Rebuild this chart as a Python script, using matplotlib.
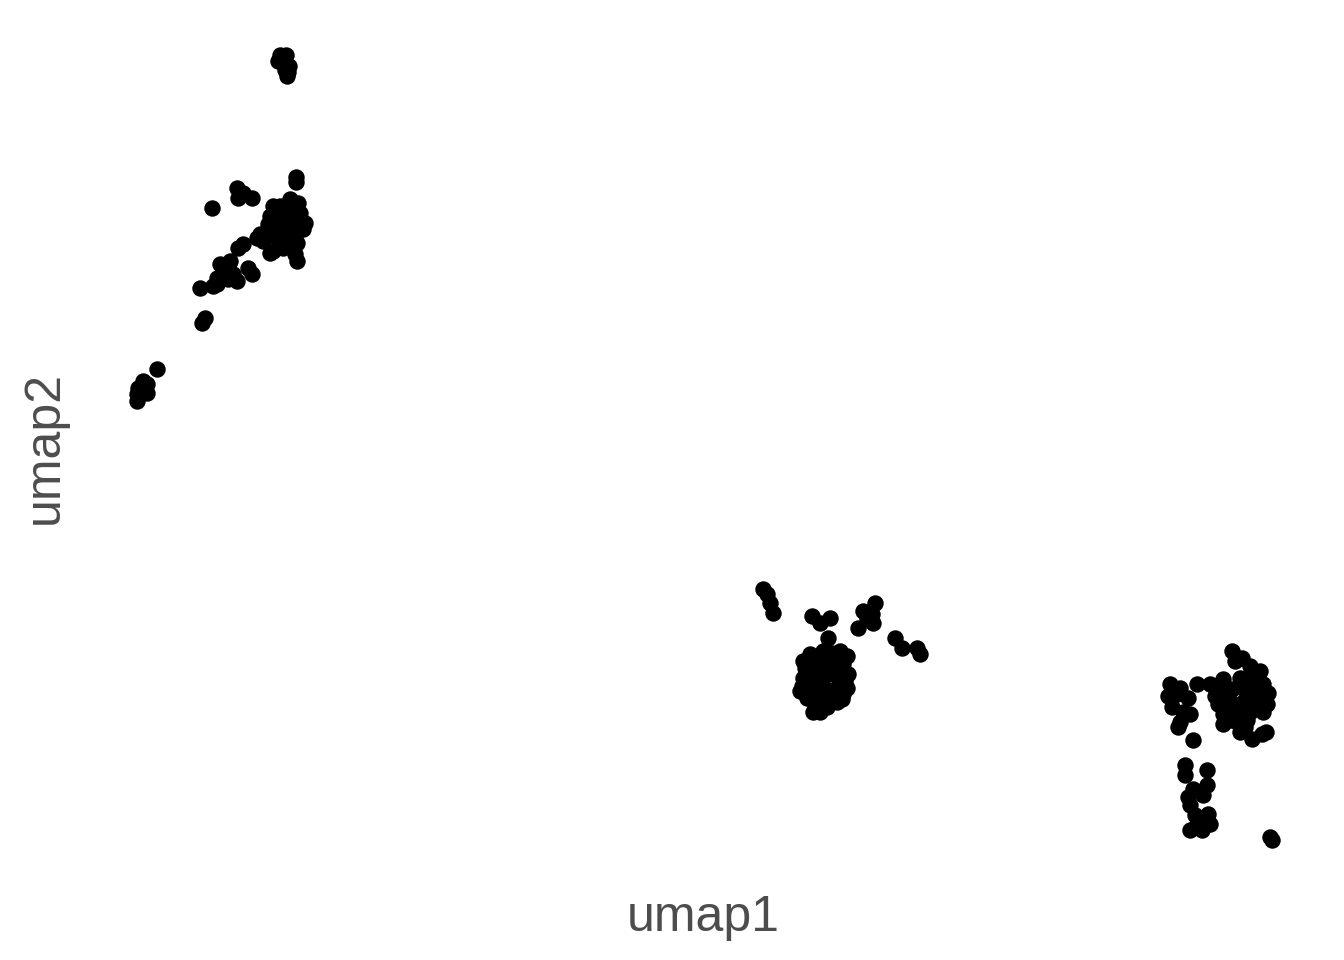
import matplotlib
matplotlib.use("Agg")
from matplotlib import pyplot as plt

# cluster A (upper left)
umap1_a = [2.80, 2.86, 2.78, 2.84, 2.89, 2.85, 2.87, 2.82, 2.88,
           2.12, 2.37, 2.43, 2.52, 2.38, 2.96, 2.96, 2.73, 2.90, 2.98,
           2.70, 2.80, 2.90, 3.00, 2.68, 2.77, 2.87, 2.97, 3.05, 2.73,
           2.83, 2.93, 3.03, 2.78, 2.90, 2.97, 2.83, 2.73, 2.95, 2.97,
           2.60, 2.57, 2.43, 2.38, 2.70, 2.63, 2.20, 2.30, 2.33, 2.37,
           2.48, 2.52, 2.17, 2.25, 2.28, 2.00, 2.13, 2.17, 2.05, 2.02,
           1.57, 1.47, 1.43, 1.38, 1.37, 1.37, 1.47,
           2.85, 2.75, 2.95, 2.88, 2.80]
umap2_a = [9.05, 9.05, 8.99, 9.00, 8.94, 8.90, 8.84, 9.02, 8.88,
           7.53, 7.72, 7.67, 7.63, 7.63, 7.83, 7.78, 7.55, 7.62, 7.58,
           7.45, 7.48, 7.50, 7.48, 7.37, 7.38, 7.40, 7.40, 7.38, 7.28,
           7.28, 7.30, 7.32, 7.22, 7.20, 7.18, 7.13, 7.10, 7.07, 7.00,
           7.27, 7.23, 7.17, 7.13, 7.08, 7.20, 6.97, 7.00, 6.87, 6.80,
           6.93, 6.87, 6.77, 6.90, 6.82, 6.73, 6.75, 6.83, 6.43, 6.38,
           5.92, 5.77, 5.80, 5.73, 5.67, 5.60, 5.68,
           7.45, 7.32, 7.25, 7.34, 7.55]

# cluster B (middle)
umap1_b = [7.63, 7.67, 7.70, 7.73, 8.12, 8.20, 8.30, 8.28, 8.75,
           8.72, 8.63, 8.58, 8.73, 8.67, 8.95, 9.02, 9.17, 9.20,
           8.10, 8.23, 8.40, 8.47, 8.05, 8.17, 8.30, 8.43, 8.48,
           8.03, 8.13, 8.27, 8.38, 8.02, 8.10, 8.23, 8.37, 8.47,
           8.07, 8.18, 8.30, 8.42, 8.15, 8.27, 8.13, 8.37,
           8.03, 8.32, 8.20, 8.33, 8.45, 8.20, 8.08, 8.25, 8.38,
           8.12, 8.00, 8.20, 8.43]
umap2_b = [3.72, 3.67, 3.58, 3.48, 3.45, 3.38, 3.43, 3.23, 3.58,
           3.47, 3.50, 3.33, 3.38, 3.43, 3.23, 3.13, 3.13, 3.07,
           3.07, 3.10, 3.10, 3.05, 2.93, 2.97, 2.98, 2.97, 2.87,
           2.83, 2.85, 2.87, 2.83, 2.75, 2.73, 2.75, 2.73, 2.73,
           2.63, 2.65, 2.63, 2.62, 2.55, 2.55, 2.50, 2.60,
           3.00, 3.08, 2.80, 2.70, 2.80, 2.60, 2.68, 2.92, 2.90,
           2.90, 2.70, 2.50, 2.67]

# cluster C (right)
umap1_c = [12.32, 12.35, 12.42, 12.50, 12.60, 11.70, 11.80, 11.68, 11.77,
           11.88, 11.72, 11.83, 11.90, 11.80, 11.78, 11.97, 12.10, 11.93,
           12.23, 12.40, 12.53, 12.63, 12.20, 12.32, 12.43, 12.57, 12.68,
           12.18, 12.30, 12.43, 12.57, 12.67, 12.23, 12.37, 12.50, 12.63,
           12.23, 12.37, 12.47, 12.40, 12.52, 12.62, 12.66,
           12.28, 12.50, 12.38, 12.60, 12.30, 12.45, 12.15, 12.55, 12.45,
           11.85, 11.85, 12.07, 12.07, 11.93, 11.88, 11.90, 12.03, 11.95,
           12.08, 11.97, 12.10, 11.90, 12.02, 12.70, 12.72]
umap2_c = [3.10, 3.00, 3.03, 2.95, 2.90, 2.77, 2.73, 2.65, 2.67,
           2.63, 2.55, 2.50, 2.48, 2.40, 2.35, 2.77, 2.77, 2.22,
           2.82, 2.83, 2.87, 2.77, 2.70, 2.72, 2.73, 2.72, 2.68,
           2.58, 2.60, 2.60, 2.60, 2.58, 2.48, 2.48, 2.50, 2.50,
           2.38, 2.40, 2.42, 2.30, 2.23, 2.28, 2.30,
           2.65, 2.67, 2.55, 2.66, 2.42, 2.80, 2.65, 2.55, 2.35,
           1.97, 1.87, 1.92, 1.77, 1.73, 1.65, 1.57, 1.67, 1.47,
           1.48, 1.38, 1.38, 1.32, 1.32, 1.25, 1.22]

umap1 = umap1_a + umap1_b + umap1_c
umap2 = umap2_a + umap2_b + umap2_c

plt.rcParams['font.family'] = ['Liberation Sans', 'DejaVu Sans']

fig = plt.figure(figsize=(13.44, 9.6), dpi=100)
ax = fig.add_axes([80 / 1344, 81 / 960, 1249 / 1344, 863 / 960])
ax.scatter(umap1, umap2, s=140, c='black', linewidths=0)
ax.margins(0.05)
ax.set_axis_off()

fig.text(703 / 1344, 1 - 918 / 960, "umap1", ha='center', va='center',
         fontsize=36, color='#4D4D4D')
fig.text(45 / 1344, 1 - 447 / 960, "umap2", ha='center', va='center',
         rotation=90, fontsize=36, color='#4D4D4D')

fig.savefig("out.png", dpi=100)
